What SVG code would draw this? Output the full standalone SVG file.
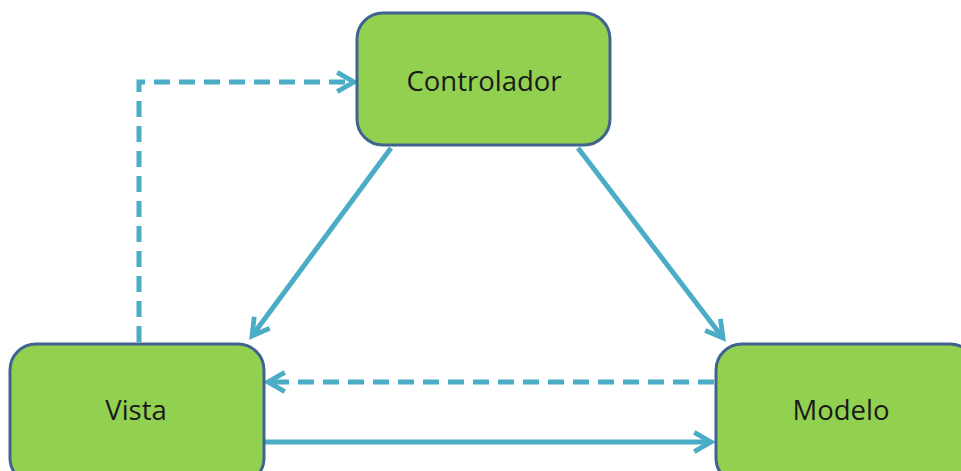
<svg xmlns="http://www.w3.org/2000/svg" width="961" height="471" viewBox="0 0 961 471">
<style>
.node rect{fill:#92d050;stroke:#41638f;stroke-width:3}
.node text{font-family:"Open Sans","Liberation Sans",sans-serif;font-size:27.5px;fill:#1a1a1a;text-anchor:middle}
.c line,.c path{stroke:#4bacc6;stroke-width:5;fill:none}
.c .d{stroke-dasharray:16 9}
</style>
<defs>
<marker id="a" viewBox="0 0 10 10" refX="8" refY="5" markerWidth="4.8" markerHeight="4.8" orient="auto" markerUnits="strokeWidth">
<path d="M1,1 L8,5 L1,9" fill="none" stroke="#4bacc6" stroke-width="2" stroke-linejoin="miter"/>
</marker>
</defs>
<rect width="961" height="471" fill="#fff"/>
<g id="connectors" class="c">
<line x1="391" y1="148" x2="252" y2="336" marker-end="url(#a)"/>
<line x1="578" y1="148" x2="723" y2="338" marker-end="url(#a)"/>
<line class="d" x1="714" y1="382" x2="268" y2="382" marker-end="url(#a)"/>
<line x1="265" y1="442" x2="711" y2="442" marker-end="url(#a)"/>
<path class="d" d="M139,342 L139,82 L354,82" marker-end="url(#a)"/>
</g>
<g id="controlador" class="node">
<rect x="357" y="13" width="253" height="132" rx="26"/>
<text x="484" y="91">Controlador</text>
</g>
<g id="vista" class="node">
<rect x="10" y="344" width="254" height="140" rx="26"/>
<text x="136" y="420">Vista</text>
</g>
<g id="modelo" class="node">
<rect x="716" y="344" width="260" height="140" rx="26"/>
<text x="841" y="420">Modelo</text>
</g>
</svg>
